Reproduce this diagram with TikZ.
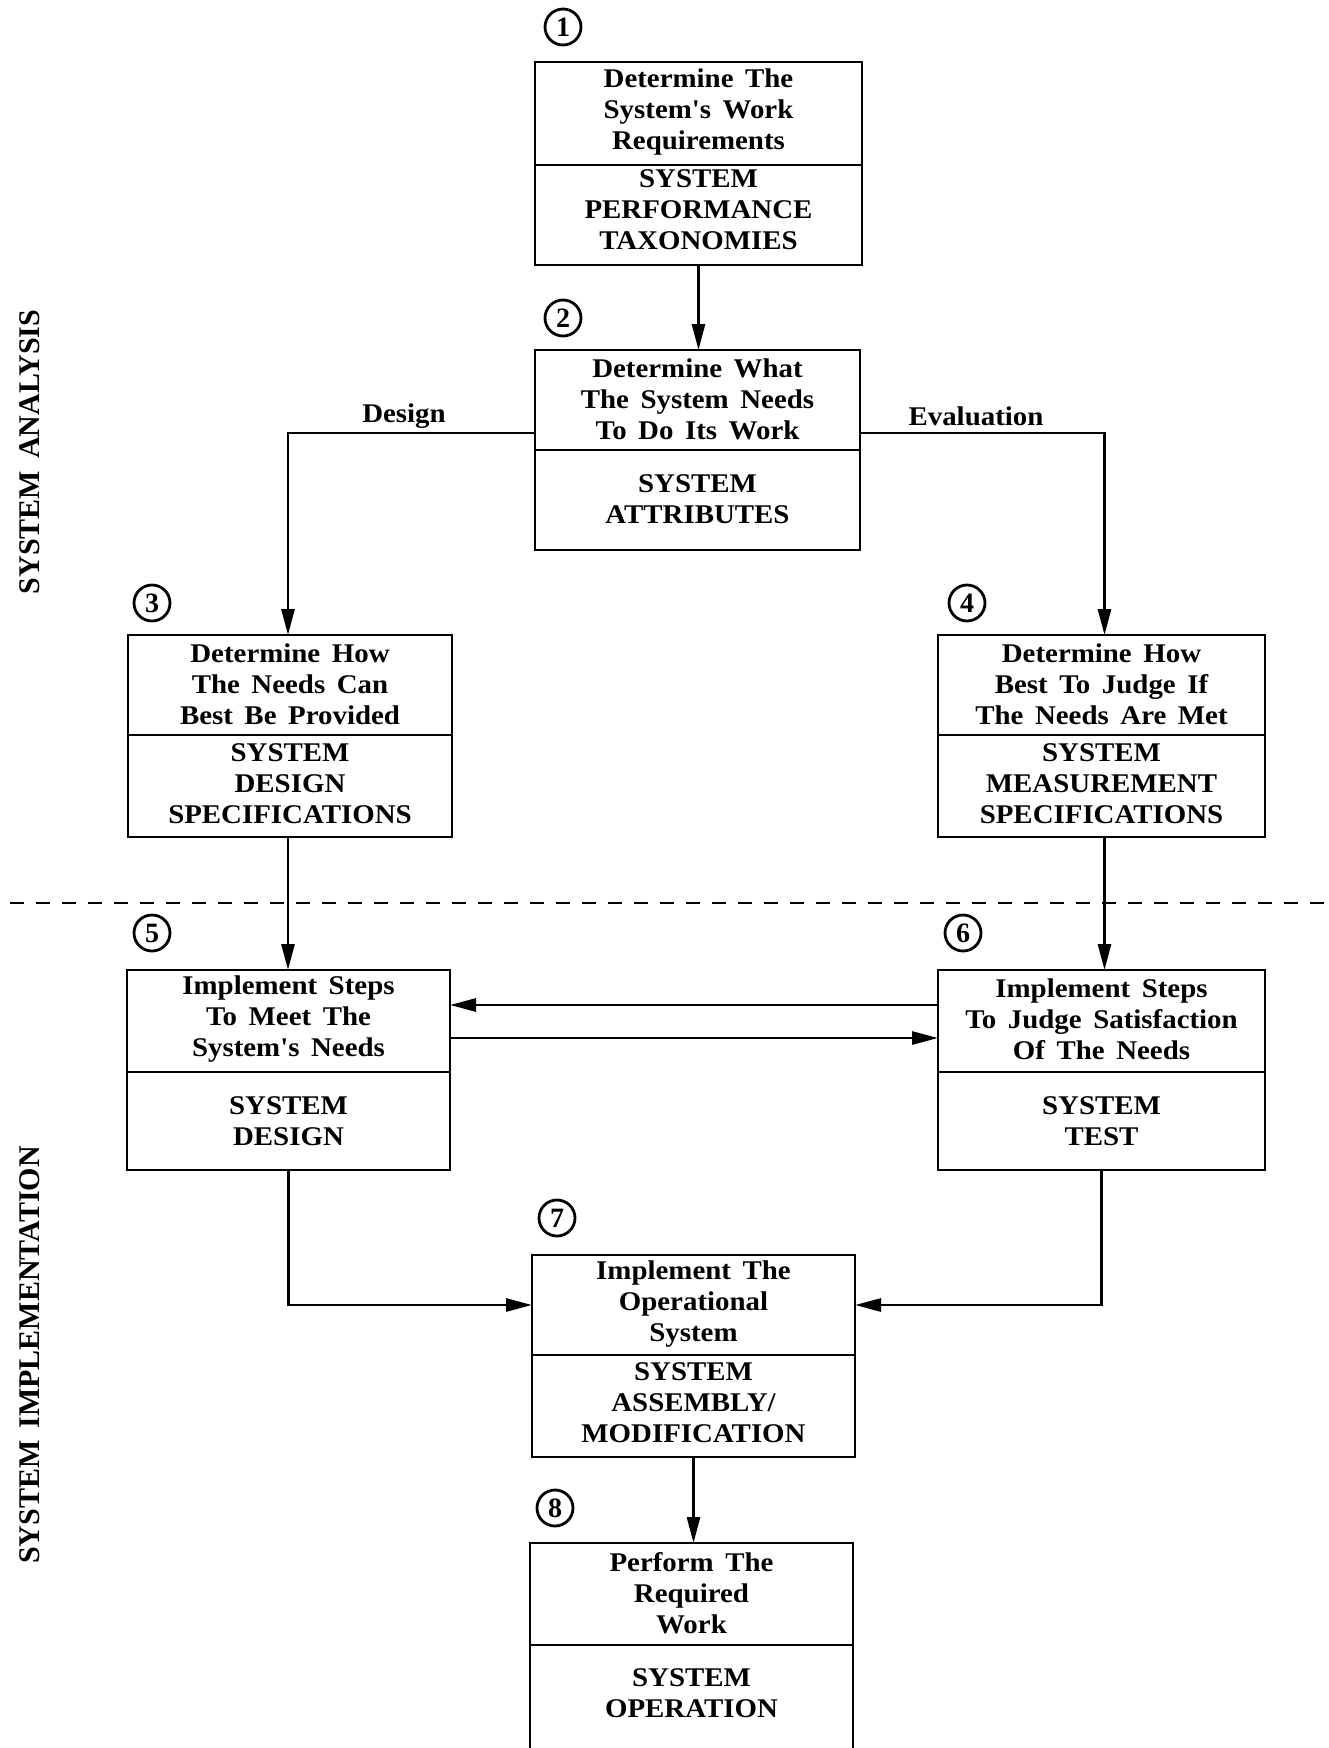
\documentclass[tikz,border=0pt]{standalone}
\usepackage{fontspec}
\usetikzlibrary{arrows.meta}
\newfontfamily\boxfont[FakeStretch=1.07,WordSpace=1.6]{Liberation Serif}
\newfontfamily\sidefont[WordSpace=1.6]{Liberation Serif}
\begin{document}
\begin{tikzpicture}[x=1pt,y=-1pt,
  line/.style={line width=2.8pt},
  box/.style={draw, line width=2.8pt, rectangle, inner sep=0pt, outer sep=0pt},
  txt/.style={align=center, inner sep=0pt, font=\boxfont\bfseries\fontsize{27}{31}\selectfont},
  lbl/.style={inner sep=0pt, font=\boxfont\bfseries\fontsize{27}{31}\selectfont},
  side/.style={inner sep=0pt, rotate=90, font=\sidefont\bfseries\fontsize{30}{34}\selectfont},
  num/.style={draw, circle, line width=2.8pt, minimum size=36pt, inner sep=0pt, font=\sidefont\bfseries\fontsize{28}{28}\selectfont},
  arr/.style={line width=2.8pt, -{Triangle[length=26pt,width=13pt]}},
  dline/.style={line width=2.2pt, dash pattern=on 14pt off 12pt}]
\useasboundingbox (0,0) rectangle (1328,1748);
\clip (0,0) rectangle (1328,1748);
\fill[white] (0,0) rectangle (1328,1748);

% side labels
\node[side] (sa) at (30,452) {SYSTEM ANALYSIS};
\node[side] (si) at (30,1355) {SYSTEM IMPLEMENTATION};

% dashed separator
\coordinate (dl) at (10,903);
\coordinate (dr) at (1328,903);
\draw[dline] (dl) -- (dr);

% boxes
\node[box, minimum width=327pt, minimum height=203pt] (b1) at (698.5,163.5) {};
\draw[line] (535,165) -- (862,165);
\node[txt] (b1u) at (698.5,112) {Determine The\\System's Work\\Requirements};
\node[txt] (b1l) at (698.5,210) {SYSTEM\\PERFORMANCE\\TAXONOMIES};

\node[box, minimum width=325pt, minimum height=200pt] (b2) at (697.5,450) {};
\draw[line] (535,450) -- (860,450);
\node[txt] (b2u) at (697.5,399) {Determine What\\The System Needs\\To Do Its Work};
\node[txt] (b2l) at (697.5,499) {SYSTEM\\ATTRIBUTES};

\node[box, minimum width=324pt, minimum height=202pt] (b3) at (290,736) {};
\draw[line] (128,735) -- (452,735);
\node[txt] (b3u) at (290,684) {Determine How\\The Needs Can\\Best Be Provided};
\node[txt] (b3l) at (290,784) {SYSTEM\\DESIGN\\SPECIFICATIONS};

\node[box, minimum width=327pt, minimum height=202pt] (b4) at (1101.5,736) {};
\draw[line] (938,735) -- (1265,735);
\node[txt] (b4u) at (1101.5,684) {Determine How\\Best To Judge If\\The Needs Are Met};
\node[txt] (b4l) at (1101.5,784) {SYSTEM\\MEASUREMENT\\SPECIFICATIONS};

\node[box, minimum width=323pt, minimum height=200pt] (b5) at (288.5,1070) {};
\draw[line] (127,1072) -- (450,1072);
\node[txt] (b5u) at (288.5,1019) {Implement Steps\\To Meet The\\System's Needs};
\node[txt] (b5l) at (288.5,1121) {SYSTEM\\DESIGN};

\node[box, minimum width=327pt, minimum height=200pt] (b6) at (1101.5,1070) {};
\draw[line] (938,1072) -- (1265,1072);
\node[txt] (b6u) at (1101.5,1019) {Implement Steps\\To Judge Satisfaction\\Of The Needs};
\node[txt] (b6l) at (1101.5,1121) {SYSTEM\\TEST};

\node[box, minimum width=323pt, minimum height=202pt] (b7) at (693.5,1356) {};
\draw[line] (532,1355) -- (855,1355);
\node[txt] (b7u) at (693.5,1304) {Implement The\\Operational\\System};
\node[txt] (b7l) at (693.5,1403) {SYSTEM\\ASSEMBLY/\\MODIFICATION};

\node[box, minimum width=323pt, minimum height=217pt] (b8) at (691.5,1651.5) {};
\draw[line] (530,1645) -- (853,1645);
\node[txt] (b8u) at (691.5,1593) {Perform The\\Required\\Work};
\node[txt] (b8l) at (691.5,1693) {SYSTEM\\OPERATION};

% numbers
\node[num] (n1) at (563,27) {1};
\node[num] (n2) at (563,318) {2};
\node[num] (n3) at (152,603) {3};
\node[num] (n4) at (967,603) {4};
\node[num] (n5) at (152,933) {5};
\node[num] (n6) at (963,933) {6};
\node[num] (n7) at (557,1218) {7};
\node[num] (n8) at (555,1508) {8};

% labels
\node[lbl] (ld) at (404,416) {Design};
\node[lbl] (le) at (976,416) {Evaluation};

% connectors
\draw[arr] (b1.south) -- (b1.south |- b2.north);
\draw[arr] ([yshift=17pt]b2.west) -| ([xshift=-2pt]b3.north);
\draw[arr] ([yshift=17pt]b2.east) -| ([xshift=3pt]b4.north);
\draw[arr] ([xshift=-2pt]b3.south) -- ([xshift=-2pt]b3.south |- b5.north);
\draw[arr] ([xshift=3pt]b4.south) -- ([xshift=3pt]b4.south |- b6.north);
\draw[arr] ([yshift=65pt]b6.west) -- ([yshift=65pt]b5.east);
\draw[arr] ([yshift=32pt]b5.east) -- ([yshift=32pt]b6.west);
\draw[arr] (b5.south) |- ([yshift=51pt]b7.west);
\draw[arr] (b6.south) |- ([yshift=51pt]b7.east);
\draw[arr] (b7.south) -- (b7.south |- b8.north);
\end{tikzpicture}
\end{document}
